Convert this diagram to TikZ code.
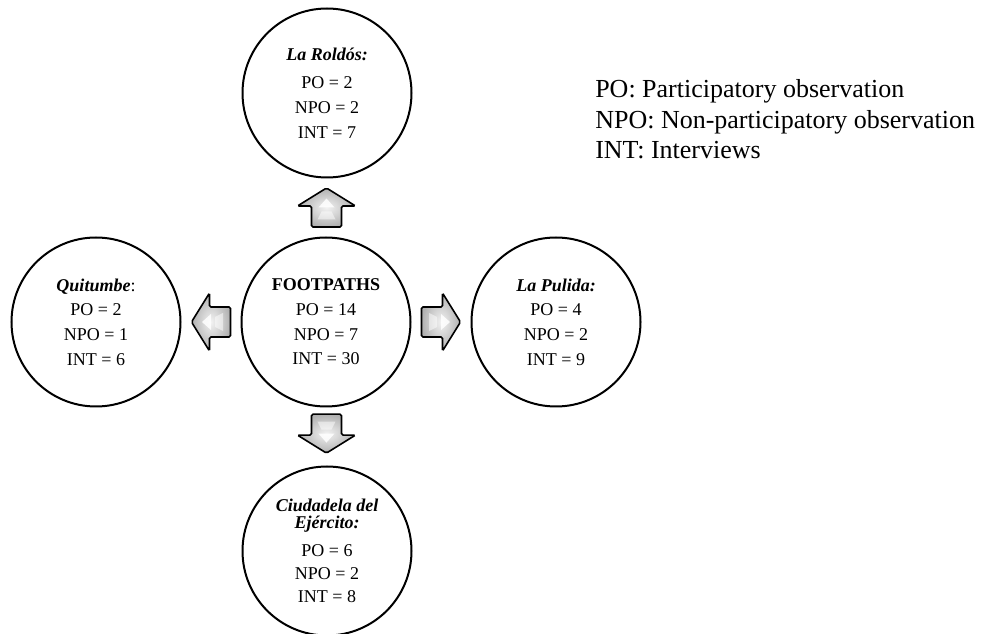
\documentclass[tikz,border=0pt]{standalone}
\usepackage{fontspec}
\setmainfont{Liberation Serif}
\usetikzlibrary{calc}

\tikzset{
  site/.style={circle, draw=black, line width=1.5pt, minimum size=126.75pt,
    inner sep=0pt, align=center, font=\fontsize{13.5}{14}\selectfont},
  arrowbody/.style={draw=black, line width=1.2pt, rounded corners=1.2pt,
    inner color=gray!10, outer color=gray!62},
  arrowglint/.style={fill=white, fill opacity=0.85, draw=none},
  legendtext/.style={anchor=base west, align=left, inner sep=0pt,
    font=\fontsize{19.5}{22.9}\selectfont}
}

% block arrow centred on a coordinate, pointing in the given direction
\newcommand\blockarrow[2]{%
  \begin{scope}[shift={(#1)}, rotate=#2]
    \path[arrowbody] (-19.5,-15) -- (1.5,-15) -- (1.5,-29) -- (19.5,0)
      -- (1.5,29) -- (1.5,15) -- (-19.5,15) -- cycle;
    \path[arrowglint] (0,-8) -- (9,0) -- (0,8) -- cycle;
    \path[arrowglint, fill opacity=0.5] (-12,-9) -- (-4,-5) -- (-4,5) -- (-12,9) -- cycle;
  \end{scope}}

\begin{document}
\begin{tikzpicture}[x=0.75pt, y=-0.75pt]
  \useasboundingbox (0,0) rectangle (1000,634);

  \node[site] (hub) at (326,322)
    {\textbf{FOOTPATHS}\\[4.5pt] PO = 14\\[4.5pt] NPO = 7\\[4.5pt] INT = 30};
  \node[site] (roldos) at (327,93)
    {\textbf{\textit{La Roldós:}}\\[7.5pt] PO = 2\\[4.5pt] NPO = 2\\[4.5pt] INT = 7};
  \node[site] (quitumbe) at (96,322)
    {\textbf{\textit{Quitumbe}}:\\[4.5pt] PO = 2\\[4.5pt] NPO = 1\\[4.5pt] INT = 6};
  \node[site] (pulida) at (556,322)
    {\textbf{\textit{La Pulida:}}\\[4.5pt] PO = 4\\[4.5pt] NPO = 2\\[4.5pt] INT = 9};
  \node[site] (ejercito) at (327,551)
    {\textbf{\textit{Ciudadela del}}\\[-1.25pt]\textbf{\textit{Ejército:}}\\[7pt]
     PO = 6\\[3.5pt] NPO = 2\\[3.5pt] INT = 8};

  % arrows from the hub out to each site
  \coordinate (toroldos)   at ($(hub.north)!0.5!(roldos.south)$);
  \coordinate (toquitumbe) at ($(hub.west)!0.5!(quitumbe.east)$);
  \coordinate (topulida)   at ($(hub.east)!0.5!(pulida.west)$);
  \coordinate (toejercito) at ($(hub.south)!0.45!(ejercito.north)$);
  \blockarrow{toroldos}{90}
  \blockarrow{toquitumbe}{180}
  \blockarrow{topulida}{0}
  \blockarrow{toejercito}{270}

  % the node's base anchor sits on its last line
  \node[legendtext] (legend) at (595,159)
    {PO: Participatory observation\\
     NPO: Non-participatory observation\\
     INT: Interviews};
\end{tikzpicture}
\end{document}
